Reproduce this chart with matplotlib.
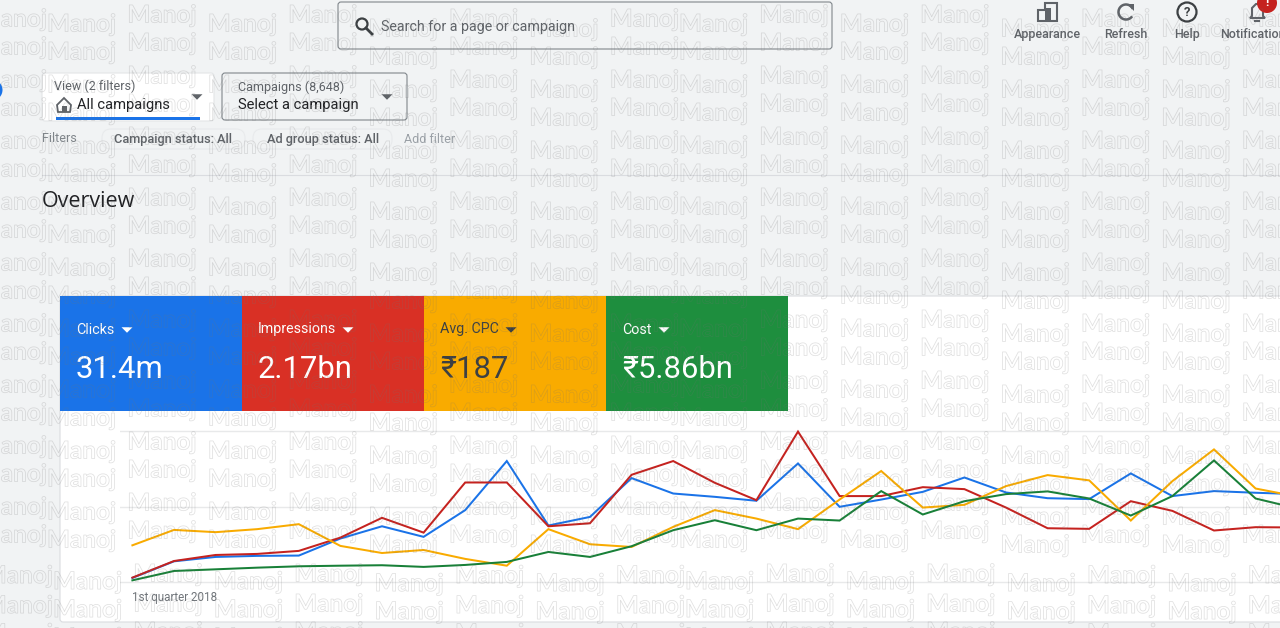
import matplotlib
matplotlib.use("Agg")
import matplotlib.pyplot as plt
import matplotlib.patheffects as pe
from matplotlib.patches import Rectangle, FancyBboxPatch, Circle, Polygon, Arc

# chart values, gridlines are at 0, 50 and 100 (the real axis has no labels)
quarters = list(range(29))
clicks = [2.7, 13.7, 16.6, 17.3, 17.5, 28.8, 36.9, 29.9, 47.6, 80.1, 37.4, 43.1, 68.8, 58.6, 56.4,
          53.8, 78.5, 49.8, 54.6, 59.7, 69.2, 59.3, 55.5, 54.9, 71.9, 56.9, 60.2, 59.1, 58.2]
impressions = [2.9, 13.9, 17.9, 18.6, 20.6, 29.4, 42.5, 32.7, 65.9, 65.9, 36.9, 38.9, 71.0, 80.1, 65.7,
               54.2, 99.6, 56.9, 56.9, 62.8, 61.5, 49.3, 35.6, 35.2, 53.5, 47.1, 34.1, 36.3, 36.1]
avg_cpc = [24.3, 34.5, 33.0, 35.0, 38.3, 23.9, 19.2, 21.2, 15.3, 10.8, 35.0, 25.0, 23.2, 36.5, 47.6,
           42.0, 35.0, 54.6, 73.5, 49.3, 51.1, 63.5, 70.8, 67.3, 40.7, 66.8, 87.8, 61.9, 56.6]
cost = [1.1, 7.3, 8.4, 9.5, 10.4, 10.8, 11.1, 10.0, 11.3, 13.3, 19.9, 16.6, 23.7, 34.3, 40.9,
        34.3, 42.0, 40.7, 60.2, 44.7, 53.5, 58.2, 60.0, 55.3, 44.0, 56.9, 80.5, 55.3, 48.7]
grid_values = [0, 50, 100]

card_names = ["Clicks", "Impressions", "Avg. CPC", "Cost"]
card_totals = ["31.4m", "2.17bn", "₹187", "₹5.86bn"]
card_colors = ["#1a73e8", "#d93025", "#f9ab00", "#1e8e3e"]
card_carets = [127, 348, 511, 664]
line_colors = ["#1a73e8", "#c5221f", "#f9ab00", "#188038"]

W, H = 1280, 628
BG = "#f1f3f4"
plt.rcParams["font.family"] = ["Roboto", "Noto Sans", "DejaVu Sans"]

fig = plt.figure(figsize=(W / 100, H / 100), dpi=100, facecolor=BG)

# page coordinates, y going down like on the screenshot
ui = fig.add_axes([0, 0, 1, 1], zorder=1)
ui.set_xlim(0, W)
ui.set_ylim(H, 0)
ui.axis("off")


def label(x, y, s, size, color="#3c4043", **kw):
    kw.setdefault("va", "center")
    ui.text(x, y + 1.5, s, fontsize=size * 0.72, color=color, **kw)


def box(x, y, w, h, fc="none", ec="#80868b", lw=0.8, r=3, z=2):
    ui.add_patch(FancyBboxPatch((x + r, y + r), w - 2 * r, h - 2 * r, boxstyle="round,pad=%d" % r,
                                fc=fc, ec=ec, lw=lw, zorder=z))


def caret(x, y, color="#5f6368", s=5.5):
    ui.add_patch(Polygon([(x - s, y - s / 2), (x + s, y - s / 2), (x, y + s / 2)], fc=color, ec="none", zorder=4))


# search box
box(338, 2, 494, 47)
ui.add_patch(Circle((362, 24), 5.5, fc="none", ec="#3c4043", lw=1.6, zorder=3))
ui.plot([366, 372], [28, 34], color="#3c4043", lw=2, zorder=3)
label(381, 25, "Search for a page or campaign", 14.3, "#5f6368")

# top right icons
for x, s in zip([1047, 1126, 1187, 1220], ["Appearance", "Refresh", "Help", "Notifications"]):
    label(x, 33, s, 12.5, "#5f6368", ha="left" if s == "Notifications" else "center", weight="medium")
ui.add_patch(Polygon([(1038, 21), (1038, 10), (1045, 10), (1045, 3), (1057, 3), (1057, 21)],
                     fc="none", ec="#5f6368", lw=1.5, zorder=3))
ui.add_patch(Rectangle((1045, 8), 6, 13, fc="#5f6368", ec="none", zorder=3))
ui.add_patch(Arc((1126, 12), 15, 15, theta1=35, theta2=335, ec="#5f6368", lw=1.8, zorder=3))
ui.add_patch(Polygon([(1127, 4), (1134, 4), (1134, 11)], fc="#5f6368", ec="none", zorder=3))
ui.add_patch(Circle((1187, 12), 9.5, fc="none", ec="#3c4043", lw=1.6, zorder=3))
label(1187, 10.5, "?", 13, "#3c4043", ha="center", weight="bold", zorder=4)
ui.add_patch(Polygon([(1250, 18), (1252, 16), (1252, 8), (1256, 4), (1260, 4), (1263, 8), (1263, 16), (1265, 18)],
                     fc="none", ec="#5f6368", lw=1.5, zorder=3))
ui.plot([1255, 1259], [21, 21], color="#5f6368", lw=1.5, zorder=3)
ui.add_patch(Circle((1267, 3), 10, fc="#c5221f", ec="none", zorder=4))
label(1267, 1.5, "!", 12, "white", ha="center", weight="bold", zorder=5)

# view and campaign pickers
ui.add_patch(Circle((-8, 90), 10.5, fc="#1a73e8", ec="none", zorder=3))
box(42, 73, 172, 48, fc="white", ec="#e3e5e7")
ui.add_patch(Rectangle((56, 116.5), 144, 3, fc="#1a73e8", ec="none", zorder=3))
label(54, 85, "View (2 filters)", 12.5, "#5f6368")
ui.add_patch(Polygon([(57, 105), (64, 98), (71, 105), (70, 112), (58, 112)], fc="none", ec="#5f6368", lw=1.3, zorder=3))
ui.add_patch(Rectangle((61.5, 106), 5, 6, fc="#5f6368", ec="none", zorder=3))
label(77, 104, "All campaigns", 14.7, "#202124")
caret(197, 97)
box(222, 73, 185, 47)
label(238, 86, "Campaigns (8,648)", 12.5, "#5f6368")
label(238, 104, "Select a campaign", 14.7, "#202124")
caret(387, 97)

# filter row
label(42, 137, "Filters", 12.5, "#80868b")
box(102, 129, 143, 20, ec="#e8eaec", r=9)
box(253, 129, 139, 20, ec="#e8eaec", r=9)
label(114, 138, "Campaign status: All", 12.7, "#5f6368", weight="medium")
label(267, 138, "Ad group status: All", 12.7, "#5f6368", weight="medium")
label(404, 138, "Add filter", 12.5, "#9aa0a6")
ui.plot([42, 1280], [175, 175], color="#dadce0", lw=0.8, zorder=2)
label(42, 200, "Overview", 21.5, "#202124", family="Open Sans")

# white card behind tiles and chart
ui.add_patch(FancyBboxPatch((63, 299), 1225, 320, boxstyle="round,pad=3", fc="white", ec="#dadce0", lw=0.8, zorder=1))

# metric tiles
for i, (name, total, color, cx) in enumerate(zip(card_names, card_totals, card_colors, card_carets)):
    x0 = 60 + 182.1 * i
    ui.add_patch(Rectangle((x0, 296), 182.1, 115, fc=color, ec="none", zorder=2))
    tc = "#3c4043" if name == "Avg. CPC" else "white"
    label(x0 + 16, 328, name, 14.3, tc)
    caret(cx, 330, tc, 5.5)
    label(x0 + 16, 368, total, 31, tc)

# chart, x axis spans the card from px 120 to the page edge
left, right, top, bottom = 120, 1280, 411, 622
ax = fig.add_axes([left / W, 1 - bottom / H, (right - left) / W, (bottom - top) / H], zorder=2)
ax.patch.set_alpha(0)
ax.set_xlim((left - 132.4) / 41.6, (right - 132.4) / 41.6)
ax.set_ylim((582 - bottom) / 1.51, (582 - top) / 1.51)
ax.set_yticks(grid_values)
ax.set_xticks([])
ax.tick_params(length=0, labelleft=False)
ax.grid(axis="y", color="#e8e9ea", lw=1)
ax.set_axisbelow(True)
for s in ax.spines.values():
    s.set_visible(False)
for series, c in zip([clicks, impressions, avg_cpc, cost], line_colors):
    ax.plot(quarters, series, color=c, lw=1.45, solid_joinstyle="miter")
ax.text(0, -10, "1st quarter 2018", fontsize=8.4, color="#70757a", va="center")

# watermark on top of everything, hollow letters
wm = fig.add_axes([0, 0, 1, 1], zorder=5)
wm.set_xlim(0, W)
wm.set_ylim(H, 0)
wm.axis("off")
wm.patch.set_alpha(0)
column_shift = [9, 0, 9, 0, 14, 4, 14, 4]
tile_rows = [15, 43, 76, 104, 137, 165, 198, 226, 259, 287, 320, 348, 381, 409, 442, 470, 503, 531]
bottom_rows = [[578, 606, 634], [574, 604, 632]]
stroke = [pe.withStroke(linewidth=0.55, foreground=(0.45, 0.45, 0.45, 0.22))]
for n in range(-1, 3):
    for k in range(8):
        x = 47 + 80.4 * k + 632 * n
        for y in tile_rows:
            t = wm.text(x, y + column_shift[k], "Manoj", fontsize=17.5, family="Lato", weight="bold",
                        color=(1, 1, 1, 0), ha="left", va="center")
            t.set_path_effects(stroke)
        for y in bottom_rows[k % 2]:
            t = wm.text(x + 6, y + column_shift[k] * 0.4, "Manoj", fontsize=17.5, family="Lato", weight="bold",
                        color=(1, 1, 1, 0), ha="left", va="center")
            t.set_path_effects(stroke)

fig.savefig("out.png", dpi=100, facecolor=BG)
